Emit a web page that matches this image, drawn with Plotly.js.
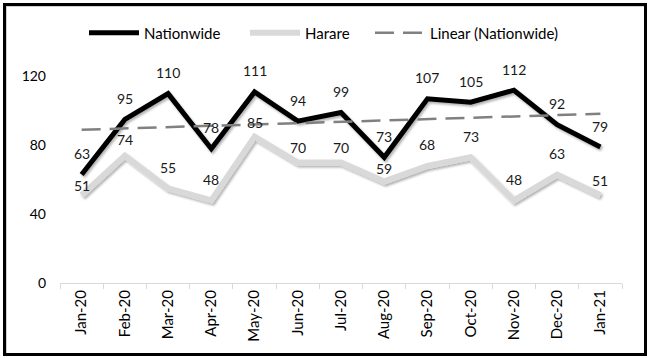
<!DOCTYPE html>
<html>
<head>
<meta charset="utf-8">
<script src="https://cdn.plot.ly/plotly-3.0.1.min.js"></script>
<style>
  html, body { margin: 0; padding: 0; background: #fff; }
  #wrap { position: relative; width: 649px; height: 358px; }
  #chart { width: 649px; height: 358px; }
  #frame { position: absolute; left: 3px; top: 3px; width: 644px; height: 353px;
           box-sizing: border-box; border: 3px solid #000; pointer-events: none;
           box-shadow: inset 1px 1px 0 #cfcfcf; }
</style>
</head>
<body>
<div id="wrap">
  <div id="chart"></div>
  <div id="frame"></div>
</div>
<script>
// ---- data ----
const months = ["Jan-20","Feb-20","Mar-20","Apr-20","May-20","Jun-20","Jul-20",
                "Aug-20","Sep-20","Oct-20","Nov-20","Dec-20","Jan-21"];
const nationwide = [63, 95, 110, 78, 111, 94, 99, 73, 107, 105, 112, 92, 79];
const harare     = [51, 74, 55, 48, 85, 70, 70, 59, 68, 73, 48, 63, 51];
const trendMonths = ["Jan-20", "Jan-21"];
const trendValues = [89.0, 98.3];   // Linear (Nationwide) endpoints

// label offsets (style only, px above point)
const natShift = 21;
const harShift = [10, 16, 21, 21, 14, 15, 15, 13, 21, 21, 21, 21, 15];

const FONT = "Lato, 'Open Sans', sans-serif";
const plotL = 60, plotR = 27, plotT = 42, plotB = 75;
const plotW = 649 - plotL - plotR, plotH = 358 - plotT - plotB;
const px2x = p => (p - plotL) / plotW;
const legY = 1 + (plotT - 33) / plotH;
const LEG_ITEM = 50;

const traces = [
  { x: months, y: harare, type: "scatter", mode: "lines", name: "Harare",
    line: { color: "#d9d9d9", width: 6 }, legend: "legend2", hoverinfo: "skip" },
  { x: months, y: nationwide, type: "scatter", mode: "lines", name: "Nationwide",
    line: { color: "#000000", width: 5 }, legend: "legend", hoverinfo: "skip" },
  { x: trendMonths, y: trendValues, type: "scatter", mode: "lines", name: "Linear (Nationwide)",
    line: { color: "#808080", width: 2.5, dash: "19px,9px" }, legend: "legend3", hoverinfo: "skip" }
];

const annotations = [];
months.forEach((m, i) => {
  annotations.push({ x: m, y: nationwide[i], text: String(nationwide[i]), showarrow: false,
    yshift: natShift, xanchor: "center", yanchor: "middle",
    font: { family: FONT, size: 14, color: "#1a1a1a" } });
  annotations.push({ x: m, y: harare[i], text: String(harare[i]), showarrow: false,
    yshift: harShift[i], xanchor: "center", yanchor: "middle",
    font: { family: FONT, size: 14, color: "#1a1a1a" } });
});

const legBase = { orientation: "h", yanchor: "middle", xanchor: "left", y: legY,
  itemwidth: LEG_ITEM,
  bgcolor: "rgba(0,0,0,0)", font: { family: FONT, size: 15, color: "#000" } };

const layout = {
  width: 649, height: 358,
  margin: { l: plotL, r: plotR, t: plotT, b: plotB, pad: 0 },
  paper_bgcolor: "#fff", plot_bgcolor: "#fff",
  font: { family: FONT, size: 14, color: "#000" },
  showlegend: true,
  legend:  Object.assign({}, legBase, { x: px2x(84) }),
  legend2: Object.assign({}, legBase, { x: px2x(245) }),
  legend3: Object.assign({}, legBase, { x: px2x(370) }),
  xaxis: {
    type: "category", range: [-0.5, 12.5], tickson: "boundaries",
    showline: true, linecolor: "#d9d9d9", linewidth: 1,
    ticks: "outside", ticklen: 5, tickcolor: "#d9d9d9",
    tickangle: -90, showgrid: false, zeroline: false,
    tickfont: { family: FONT, size: 15, color: "#000" }
  },
  yaxis: {
    range: [0, 140], tickvals: [0, 40, 80, 120], showgrid: false, zeroline: false,
    showline: false, ticks: "", ticklabelstandoff: 13,
    tickfont: { family: FONT, size: 14, color: "#000" }
  },
  annotations: annotations
};

Plotly.newPlot("chart", traces, layout, { staticPlot: true }).then(gd => {
  const svg = gd.querySelector("svg.main-svg");
  const defs = svg.querySelector("defs");
  const NS = "http://www.w3.org/2000/svg";
  const f = document.createElementNS(NS, "filter");
  f.setAttribute("id", "lineShadow");
  f.setAttribute("x", "-10%"); f.setAttribute("y", "-20%");
  f.setAttribute("width", "130%"); f.setAttribute("height", "150%");
  const ds = document.createElementNS(NS, "feDropShadow");
  ds.setAttribute("dx", "1.5"); ds.setAttribute("dy", "2");
  ds.setAttribute("stdDeviation", "1.3");
  ds.setAttribute("flood-color", "#000"); ds.setAttribute("flood-opacity", "0.3");
  f.appendChild(ds); defs.appendChild(f);
  const lines = gd.querySelectorAll(".scatterlayer .trace");
  [0, 1].forEach(i => {
    const p = lines[i] && lines[i].querySelector("path.js-line");
    if (p) p.setAttribute("filter", "url(#lineShadow)");
  });
  // lengthen legend line samples to match the item width
  gd.querySelectorAll(".legendlines path").forEach(p => {
    p.setAttribute("d", "M5,0h" + LEG_ITEM);
  });
});
</script>
</body>
</html>
